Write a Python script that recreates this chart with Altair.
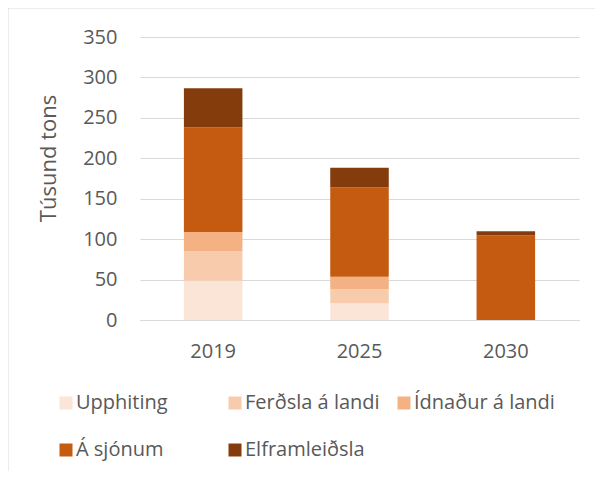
import altair as alt
import pandas as pd

years = ["2019", "2025", "2030"]
categories = ["Upphiting", "Ferðsla á landi", "Ídnaður á landi", "Á sjónum", "Elframleiðsla"]
colors = ["#FBE5D6", "#F8CBAD", "#F4B183", "#C55A11", "#843C0C"]
upphiting = [48.6, 20.6, 0.0]
ferdsla = [36.0, 17.3, 0.0]
idnadur = [24.3, 15.7, 0.0]
a_sjonum = [129.2, 110.4, 104.7]
elframleidsla = [48.4, 24.4, 5.0]
y_ticks = [0, 50, 100, 150, 200, 250, 300, 350]

series = [upphiting, ferdsla, idnadur, a_sjonum, elframleidsla]
rows = []
for ci, (cat, vals) in enumerate(zip(categories, series)):
    for yr, v in zip(years, vals):
        rows.append({"year": yr, "cat": cat, "value": v, "order": ci})
df = pd.DataFrame(rows)

FONT = "Open Sans"
GRAY = "#595959"
LINE = "#D9D9D9"
W, H = 439, 283
PAD = {"left": 132, "top": 29, "right": 16, "bottom": 151}

bars = alt.Chart(df).mark_bar().encode(
    x=alt.X("year:N", sort=years,
            scale=alt.Scale(paddingInner=0.6, paddingOuter=0.3),
            axis=alt.Axis(title=None, labelAngle=0, ticks=False, domain=True,
                          domainColor=LINE, labelFontSize=20, labelColor=GRAY,
                          labelFont=FONT, labelPadding=21, grid=False)),
    y=alt.Y("value:Q", stack="zero",
            scale=alt.Scale(domain=[0, 350], nice=False),
            axis=alt.Axis(values=y_ticks, title="Túsund tons", ticks=False,
                          domain=False, gridColor=LINE, labelFontSize=20,
                          labelColor=GRAY, labelFont=FONT, labelPadding=23,
                          titleFontSize=22, titleColor=GRAY, titleFont=FONT,
                          titleFontWeight="normal", titleX=-85, titleY=121,
                          titleAngle=-90, titleAlign="center",
                          titleBaseline="alphabetic")),
    color=alt.Color("cat:N",
                    scale=alt.Scale(domain=categories, range=colors),
                    legend=alt.Legend(title=None, orient="none", legendX=-84,
                                      legendY=356, direction="horizontal",
                                      columns=3, gridAlign="all",
                                      columnPadding=8, rowPadding=27,
                                      symbolType="square", symbolSize=169,
                                      symbolStrokeWidth=0, symbolOpacity=1,
                                      labelFontSize=20, labelColor=GRAY,
                                      labelFont=FONT, labelOffset=0,
                                      labelLimit=300)),
    order=alt.Order("order:Q", sort="ascending"),
)

frame_data = alt.Data(values=[{"a": 1}])
left_border = alt.Chart(frame_data).mark_rule(color=LINE, strokeWidth=1).encode(
    x=alt.value(-132), y=alt.value(-29), y2=alt.value(H + PAD["bottom"]))
top_border = alt.Chart(frame_data).mark_rule(color=LINE, strokeWidth=1).encode(
    x=alt.value(-132), x2=alt.value(W + PAD["right"]), y=alt.value(-29))

chart = alt.layer(bars, left_border, top_border).properties(
    width=W, height=H,
    autosize=alt.AutoSizeParams(type="none"),
    padding=PAD,
).configure(font=FONT).configure_view(strokeWidth=0)

chart.save("out.html", embed_options={"renderer": "svg", "actions": False})
